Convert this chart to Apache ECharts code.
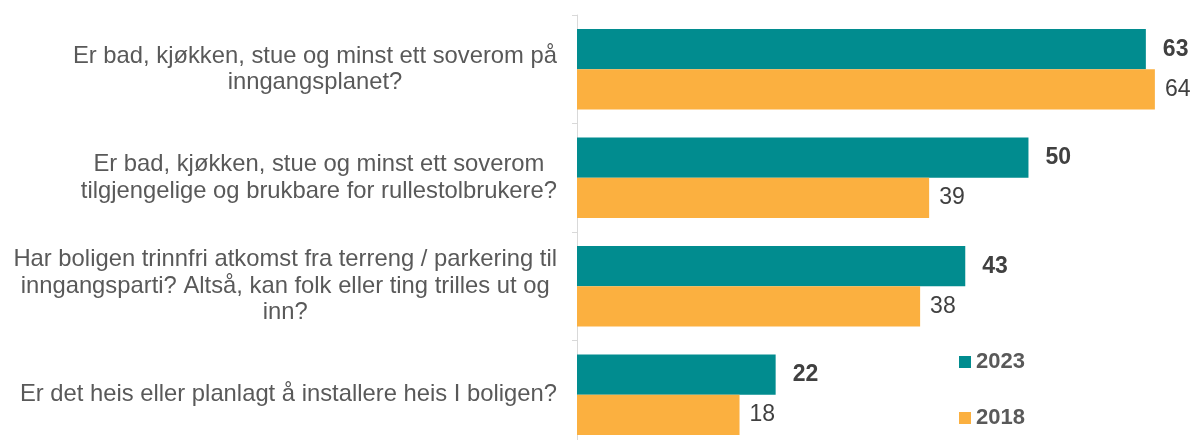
<!DOCTYPE html>
<html>
<head>
<meta charset="utf-8">
<script src="https://cdn.jsdelivr.net/npm/echarts@6/dist/echarts.min.js"></script>
<style>
  html, body { margin: 0; padding: 0; background: #fff; overflow: hidden; }
  /* the plot runs past the bottom edge of the picture, as in the original */
  #chart { width: 1196px; height: 450px; }
</style>
</head>
<body>
<div id="chart"></div>
<script>
// spørsmål (kategorier), linjeskift som i originalen
const categories = [
  "Er bad, kjøkken, stue og minst ett soverom på\ninngangsplanet?",
  "Er bad, kjøkken, stue og minst ett soverom\ntilgjengelige og brukbare for rullestolbrukere?",
  "Har boligen trinnfri atkomst fra terreng / parkering til\ninngangsparti? Altså, kan folk eller ting trilles ut og\ninn?",
  "Er det heis eller planlagt å installere heis I boligen?",
];
const values2023 = [63, 50, 43, 22];
const values2018 = [64, 39, 38, 18];

const colors = {
  teal: "#018c8f",
  orange: "#fbb040",
  axis: "#d9d9d9",
  label: "#595959",
  value: "#404040",
};
const font = "Liberation Sans, Arial, sans-serif";

const chart = echarts.init(document.getElementById("chart"));

const option = {
  animation: false,
  textStyle: { fontFamily: font },
  grid: {
    left: 577,
    right: 5,
    top: 15,
    bottom: 1,
  },
  legend: {
    orient: "vertical",
    left: 954,
    top: 346,
    itemWidth: 12,
    itemHeight: 12,
    itemGap: 34,
    icon: "rect",
    textStyle: {
      fontFamily: font,
      fontSize: 22,
      fontWeight: "bold",
      color: colors.label,
    },
    data: ["2023", "2018"],
  },
  xAxis: {
    type: "value",
    min: 0,
    max: 68,
    show: false,
  },
  yAxis: {
    type: "category",
    inverse: true,
    data: categories,
    axisLine: { show: true, lineStyle: { color: colors.axis, width: 1 } },
    axisTick: { show: true, length: 5, lineStyle: { color: colors.axis } },
    splitLine: { show: false },
    axisLabel: {
      margin: 20,
      formatter: (v) => v.split("\n").map((l) => "{c|" + l + "}").join("\n"),
      rich: {
        c: {
          align: "center",
          fontFamily: font,
          fontSize: 23.8,
          lineHeight: 26.5,
          color: colors.label,
        },
      },
    },
  },
  series: [
    {
      name: "2023",
      type: "bar",
      data: values2023,
      barGap: "0%",
      barCategoryGap: "26%",
      itemStyle: { color: colors.teal },
      label: {
        show: true,
        position: "right",
        distance: 17,
        fontFamily: font,
        fontSize: 23,
        fontWeight: "bold",
        color: colors.value,
      },
    },
    {
      name: "2018",
      type: "bar",
      data: values2018,
      barGap: "0%",
      barCategoryGap: "26%",
      itemStyle: { color: colors.orange },
      label: {
        show: true,
        position: "right",
        distance: 10,
        fontFamily: font,
        fontSize: 23,
        color: colors.value,
      },
    },
  ],
};

chart.setOption(option);
</script>
</body>
</html>
